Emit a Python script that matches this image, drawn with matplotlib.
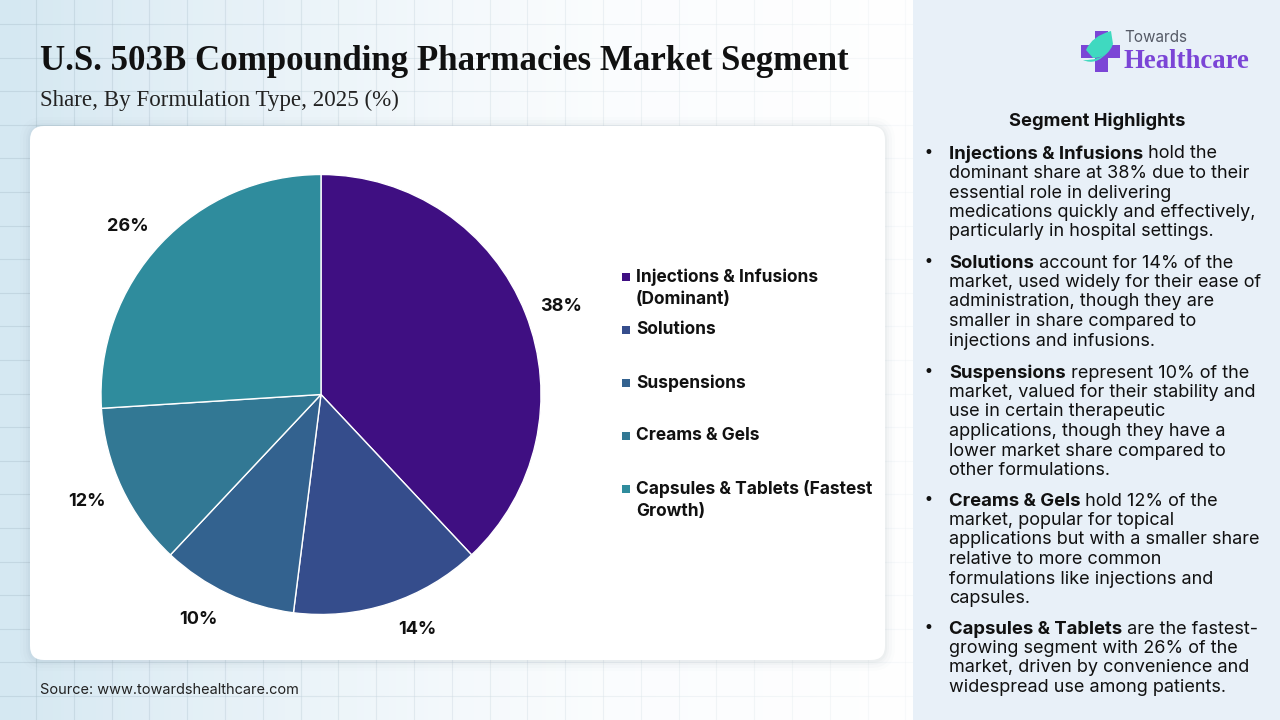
import numpy as np
import matplotlib
matplotlib.use('Agg')
import matplotlib.pyplot as plt
from matplotlib.patches import FancyBboxPatch, Rectangle, PathPatch
from matplotlib.path import Path

# chart data
categories = ['Injections & Infusions\n(Dominant)', 'Solutions', 'Suspensions', 'Creams & Gels', 'Capsules & Tablets (Fastest\nGrowth)']
shares = [38, 14, 10, 12, 26]
colors = ['#3f0f82', '#354d8c', '#33628f', '#327894', '#2f8c9d']

title = 'U.S. 503B Compounding Pharmacies Market Segment'
subtitle = 'Share, By Formulation Type, 2025 (%)'
source = 'Source: www.towardshealthcare.com'
panel_title = 'Segment Highlights'

# each paragraph: bold lead, rest of first line, following lines
highlights = [
    ('Injections & Infusions', ' hold the', ['dominant share at 38% due to their', 'essential role in delivering', 'medications quickly and effectively,', 'particularly in hospital settings.']),
    ('Solutions', ' account for 14% of the', ['market, used widely for their ease of', 'administration, though they are', 'smaller in share compared to', 'injections and infusions.']),
    ('Suspensions', ' represent 10% of the', ['market, valued for their stability and', 'use in certain therapeutic', 'applications, though they have a', 'lower market share compared to', 'other formulations.']),
    ('Creams & Gels', ' hold 12% of the', ['market, popular for topical', 'applications but with a smaller share', 'relative to more common', 'formulations like injections and', 'capsules.']),
    ('Capsules & Tablets', ' are the fastest-', ['growing segment with 26% of the', 'market, driven by convenience and', 'widespread use among patients.']),
]

body_font = 'Inter'

fig = plt.figure(figsize=(12.8, 7.2), dpi=100)

# page layer in pixel coordinates
bg = fig.add_axes([0, 0, 1, 1])
bg.axis('off')

# background gradient
grad = np.linspace(0, 1, 256).reshape(1, -1)
cmap = matplotlib.colors.LinearSegmentedColormap.from_list('page', ['#d5e8f2', '#e4f0f7', '#f6fafd', '#fcfdfe'])
bg.imshow(grad, extent=[0, 913, 720, 0], cmap=cmap, aspect='auto', zorder=0)

# faint grid on the page
for x in np.arange(36, 913, 37.8):
    bg.plot([x, x], [0, 720], color='#a9bfcc', lw=0.8, alpha=0.4, zorder=1)
for y in np.arange(24, 720, 33.6):
    bg.plot([0, 913], [y, y], color='#a9bfcc', lw=0.8, alpha=0.4, zorder=1)

# white ramp so the grid fades out to the right
ramp = np.ones((1, 256, 4))
ramp[..., 3] = np.linspace(0, 0.8, 256)
bg.imshow(ramp, extent=[0, 913, 720, 0], aspect='auto', zorder=1.5)
bg.set_xlim(0, 1280)
bg.set_ylim(720, 0)

# right panel
bg.add_patch(Rectangle((913, 0), 367, 720, fc='#e8f0f8', ec='none', zorder=2))

# white card with soft shadow
for grow, alpha in zip([10, 7, 4, 2], [0.012, 0.018, 0.022, 0.03]):
    bg.add_patch(FancyBboxPatch((30 - grow, 126 - grow + 1), 855 + 2 * grow, 534 + 2 * grow,
                                boxstyle='round,pad=0,rounding_size=%d' % (14 + grow), fc='#4a6070', ec='none', alpha=alpha, zorder=3))
bg.add_patch(FancyBboxPatch((30, 126), 855, 534, boxstyle='round,pad=0,rounding_size=14', fc='white', ec='none', zorder=4))

# titles
bg.text(40, 61, title, family='Liberation Serif', fontweight='bold', fontsize=25.15, color='#111111', va='center', zorder=5)
bg.text(40, 100, subtitle, family='Liberation Serif', fontsize=16.6, color='#222222', va='center', zorder=5)
bg.text(40, 690, source, family=body_font, fontsize=10.45, color='#222222', va='center', zorder=5)

# legend
legend_y = [277, 330, 383, 436, 489]
for name, col, y in zip(categories, colors, legend_y):
    bg.add_patch(Rectangle((622, y - 4), 8, 8, fc=col, ec='none', zorder=5))
    bg.text(636, y - 9, name, family=body_font, fontweight='bold', fontsize=12.5, color='#111111',
            va='top', linespacing=1.42, zorder=5)

# side panel text
bg.text(1097, 121, panel_title, family=body_font, fontweight='bold', fontsize=13.2, color='#111111', ha='center', va='center', zorder=5)
renderer = fig.canvas.get_renderer()
para_y = [154, 263, 373, 501, 629]
line_h = 19.5
for (lead, rest, lines), y in zip(highlights, para_y):
    bg.text(928, y - 1, '•', family='DejaVu Sans', fontsize=12, color='#111111', ha='center', va='center', zorder=5)
    t = bg.text(949, y, lead, family=body_font, fontweight='bold', fontsize=13.3, color='#111111', va='center', zorder=5)
    x_end = 949 + t.get_window_extent(renderer).width
    bg.text(x_end, y, rest, family=body_font, fontsize=13, color='#111111', va='center', zorder=5)
    for i, line in enumerate(lines):
        bg.text(949, y + (i + 1) * line_h, line, family=body_font, fontsize=13, color='#111111', va='center', zorder=5)

# logo
bg.add_patch(Rectangle((1095, 31), 13, 41, fc='#7b45d6', ec='none', zorder=5))
bg.add_patch(Rectangle((1081, 45), 39, 13, fc='#7b45d6', ec='none', zorder=5))
leaf = Path([(1111, 31), (1092, 36), (1086, 50), (1093, 58), (1108, 58), (1113, 44), (1111, 31)],
            [Path.MOVETO, Path.CURVE3, Path.CURVE3, Path.LINETO, Path.CURVE3, Path.CURVE3, Path.CLOSEPOLY])
bg.add_patch(PathPatch(leaf, fc='#3fd9c0', ec='none', zorder=6))
swoosh = Path([(1083, 60), (1096, 66), (1108, 52), (1098, 61), (1083, 60)],
              [Path.MOVETO, Path.CURVE3, Path.CURVE3, Path.CURVE3, Path.CURVE3])
bg.add_patch(PathPatch(swoosh, fc='#3fd9c0', ec='none', zorder=6))
bg.text(1124, 38, 'Towards', family=body_font, fontsize=11, color='#555a66', va='center', zorder=5)
bg.text(1123, 62, 'Healthcare', family='Liberation Serif', fontweight='bold', fontsize=19.3, color='#7b45d6', va='center', zorder=5)

# pie, centre 321,394.5 radius 220 px
ax = fig.add_axes([101 / 1280, 1 - 614.5 / 720, 440 / 1280, 440 / 720])
ax.patch.set_alpha(0)
wedges, texts, autotexts = ax.pie(shares, colors=colors, startangle=90, counterclock=False, radius=1,
                                  autopct='%d%%', pctdistance=1.165,
                                  wedgeprops={'edgecolor': 'white', 'linewidth': 1.0})
ax.set_xlim(-1, 1)
ax.set_ylim(-1, 1)
label_nudge = [(0.01, -0.03), (0.08, 0.04), (-0.06, 0.03), (-0.01, 0.01), (-0.03, -0.035)]
for at, (dx, dy) in zip(autotexts, label_nudge):
    x0, y0 = at.get_position()
    at.set_position((x0 + dx, y0 + dy))
    at.set_clip_on(False)
    at.set_family(body_font)
    at.set_fontweight('bold')
    at.set_fontsize(13)
    at.set_color('#111111')

plt.savefig('out.png', dpi=100)
